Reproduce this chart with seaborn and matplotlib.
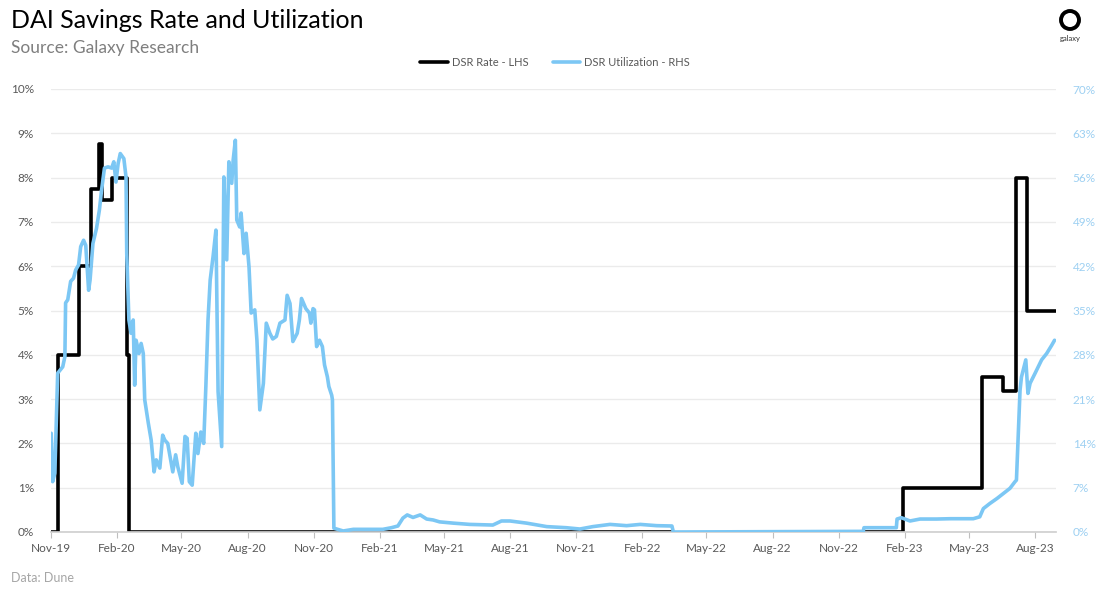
import matplotlib
matplotlib.use('Agg')
import matplotlib.pyplot as plt
import matplotlib.dates as mdates
from matplotlib.lines import Line2D
from matplotlib.patches import Ellipse
import pandas as pd
import seaborn as sns

# DSR rate (LHS, %) - step changes, two segments (gap Mar-22 .. Dec-22)
rate_dates = ['2019-11-01', '2019-11-11', '2019-12-10', '2019-12-27', '2020-01-07',
              '2020-01-11', '2020-01-25', '2020-02-15', '2020-02-18', '2022-03-14',
              '2022-12-07', '2023-01-29', '2023-05-19', '2023-06-17', '2023-07-05',
              '2023-07-20', '2023-08-30']
rate_vals = [0, 4, 6, 7.75, 8.75, 7.5, 8, 4, 0, 0,
             0, 1, 3.49, 3.19, 8, 5, 5]
rate_seg = [1, 1, 1, 1, 1, 1, 1, 1, 1, 1,
            2, 2, 2, 2, 2, 2, 2]

# DSR utilization (RHS, %)
util_dates = ['2019-11-02', '2019-11-04', '2019-11-07', '2019-11-11', '2019-11-18', '2019-11-21',
              '2019-11-22', '2019-11-25', '2019-11-29', '2019-12-03', '2019-12-06', '2019-12-10',
              '2019-12-13', '2019-12-17', '2019-12-20', '2019-12-24', '2019-12-26', '2019-12-30',
              '2020-01-04', '2020-01-08', '2020-01-11', '2020-01-15', '2020-01-20', '2020-01-25',
              '2020-01-28', '2020-01-31', '2020-02-03', '2020-02-06', '2020-02-11', '2020-02-14',
              '2020-02-15', '2020-02-18', '2020-02-21', '2020-02-24', '2020-02-26', '2020-02-28',
              '2020-03-03', '2020-03-06', '2020-03-09', '2020-03-11', '2020-03-16', '2020-03-20',
              '2020-03-24', '2020-03-27', '2020-04-01', '2020-04-05', '2020-04-08', '2020-04-12',
              '2020-04-16', '2020-04-19', '2020-04-23', '2020-04-26', '2020-05-02', '2020-05-06',
              '2020-05-09', '2020-05-12', '2020-05-16', '2020-05-21', '2020-05-24', '2020-05-28',
              '2020-06-01', '2020-06-04', '2020-06-07', '2020-06-10', '2020-06-14', '2020-06-18',
              '2020-06-21', '2020-06-26', '2020-06-29', '2020-07-03', '2020-07-06', '2020-07-10',
              '2020-07-12', '2020-07-15', '2020-07-17', '2020-07-21', '2020-07-23', '2020-07-27',
              '2020-07-30', '2020-08-03', '2020-08-06', '2020-08-11', '2020-08-14', '2020-08-18',
              '2020-08-23', '2020-08-27', '2020-09-01', '2020-09-05', '2020-09-10', '2020-09-15',
              '2020-09-22', '2020-09-25', '2020-09-29', '2020-10-03', '2020-10-09', '2020-10-12',
              '2020-10-15', '2020-10-21', '2020-10-26', '2020-10-28', '2020-10-31', '2020-11-02',
              '2020-11-05', '2020-11-09', '2020-11-13', '2020-11-16', '2020-11-20', '2020-11-22',
              '2020-11-26', '2020-11-27', '2020-11-29', '2020-12-12', '2020-12-26', '2021-02-05',
              '2021-02-17', '2021-02-26', '2021-03-05', '2021-03-11', '2021-03-19', '2021-03-29',
              '2021-04-07', '2021-04-16', '2021-04-25', '2021-05-14', '2021-06-06', '2021-07-08',
              '2021-07-20', '2021-08-01', '2021-08-24', '2021-09-21', '2021-10-18', '2021-11-06',
              '2021-11-24', '2021-12-18', '2022-01-10', '2022-01-29', '2022-02-21', '2022-03-14',
              '2022-03-16', '2022-12-05', '2022-12-06', '2023-01-20', '2023-01-21', '2023-01-27',
              '2023-02-08', '2023-02-22', '2023-03-17', '2023-04-05', '2023-05-07', '2023-05-16',
              '2023-05-21', '2023-05-30', '2023-06-09', '2023-06-18', '2023-06-27', '2023-07-04',
              '2023-07-06', '2023-07-11', '2023-07-13', '2023-07-19', '2023-07-22', '2023-07-25',
              '2023-08-01', '2023-08-10', '2023-08-17', '2023-08-24', '2023-08-28']
util_vals = [15.6, 7.95, 9.3, 25.1, 26.1, 27.7,
             36.2, 36.7, 39.6, 40.1, 41.4, 42.2,
             45.1, 46.1, 45.3, 38.2, 39.8, 45.6,
             48.0, 50.9, 54.0, 57.5, 57.7, 57.5,
             58.5, 55.3, 58.2, 59.8, 59.0, 56.1,
             44.0, 33.5, 31.4, 33.5, 23.2, 30.3,
             28.2, 29.8, 28.2, 20.9, 17.2, 14.5,
             9.5, 11.4, 10.1, 15.3, 14.5, 14.0,
             11.4, 9.5, 12.2, 10.3, 7.7, 15.1,
             14.8, 7.95, 7.4, 15.6, 12.4, 15.8,
             14.0, 23.0, 33.5, 39.8, 43.5, 47.7,
             22.2, 13.5, 56.1, 43.0, 58.5, 55.1,
             58.8, 61.9, 49.3, 48.2, 50.4, 44.0,
             47.2, 41.9, 34.6, 35.1, 30.3, 19.3,
             23.5, 33.0, 31.4, 30.5, 30.9, 33.0,
             33.5, 37.4, 36.1, 30.1, 31.4, 33.5,
             36.9, 35.3, 34.6, 33.0, 35.3, 35.1,
             29.3, 30.3, 29.3, 26.4, 24.5, 23.0,
             21.6, 20.9, 0.6, 0.16, 0.42, 0.42,
             0.68, 0.95, 2.2, 2.7, 2.3, 2.7,
             2.05, 1.9, 1.6, 1.4, 1.2, 1.1,
             1.74, 1.74, 1.4, 0.85, 0.68, 0.47,
             0.85, 1.2, 1.0, 1.2, 1.0, 0.95,
             0.0, 0.1, 0.68, 0.68, 2.05, 2.26,
             1.74, 2.05, 2.05, 2.1, 2.1, 2.4,
             3.7, 4.5, 5.3, 6.1, 6.9, 7.95,
             8.2, 22.4, 24.5, 27.2, 21.9, 23.5,
             25.1, 27.2, 28.2, 29.5, 30.3]

left_ticks = [0, 1, 2, 3, 4, 5, 6, 7, 8, 9, 10]
right_ticks = [0, 7, 14, 21, 28, 35, 42, 49, 56, 63, 70]

black = '#000000'
blue = '#7CC7F4'
blue_lbl = '#9DD0F2'
grey_txt = '#595959'

sns.set_theme(style='white')
plt.rcParams['font.family'] = ['Lato', 'DejaVu Sans']

rate_df = pd.DataFrame({'date': pd.to_datetime(rate_dates), 'rate': rate_vals, 'seg': rate_seg})
util_df = pd.DataFrame({'date': pd.to_datetime(util_dates), 'util': util_vals})

fig = plt.figure(figsize=(11, 5.93), dpi=100)
ax = fig.add_axes([50.5 / 1100, 61 / 593, (1056 - 50.5) / 1100, 443 / 593])
ax2 = ax.twinx()

sns.lineplot(data=rate_df, x='date', y='rate', units='seg', estimator=None,
             drawstyle='steps-post', color=black, linewidth=2.6, ax=ax)
sns.lineplot(data=util_df, x='date', y='util', color=blue, linewidth=2.6, ax=ax2)

ax.set_ylim(0, 10)
ax2.set_ylim(0, 70)
ax.set_yticks(left_ticks)
ax.set_yticklabels([f'{v}%' for v in left_ticks])
ax2.set_yticks(right_ticks)
ax2.set_yticklabels([f'{v}%' for v in right_ticks])

ax.set_xlim(pd.Timestamp('2019-11-01'), pd.Timestamp('2023-08-30'))
ax.set_xticks(pd.date_range('2019-11-01', '2023-08-01', freq='3MS'))
ax.xaxis.set_major_formatter(mdates.DateFormatter('%b-%y'))

for a in (ax, ax2):
    a.set_xlabel('')
    a.set_ylabel('')
    for s in a.spines.values():
        s.set_visible(False)
    if a.get_legend() is not None:
        a.get_legend().remove()

ax.spines['bottom'].set_visible(True)
ax.spines['bottom'].set_color('#D0D0D0')
ax.grid(axis='y', color='#EBEBEB', linewidth=1)
ax.set_axisbelow(True)
ax.tick_params(axis='x', colors='#BFBFBF', labelcolor=grey_txt, labelsize=8.5,
               length=4, width=0.8, direction='out', bottom=True, pad=4)
ax.tick_params(axis='y', labelcolor=grey_txt, labelsize=8.5, length=0, pad=12)
ax2.tick_params(axis='y', labelcolor=blue_lbl, labelsize=8.5, length=0, pad=12)

# legend
handles = [Line2D([], [], color=black, linewidth=2.6),
           Line2D([], [], color=blue, linewidth=2.6)]
fig.legend(handles, ['DSR Rate - LHS', 'DSR Utilization - RHS'], loc='center',
           bbox_to_anchor=(555 / 1100, 1 - 62 / 593), ncol=2, frameon=False,
           fontsize=8, handlelength=2.5, handletextpad=0.3, columnspacing=2.2,
           labelcolor=grey_txt)

# titles
fig.text(11 / 1100, 1 - 20 / 593, 'DAI Savings Rate and Utilization', fontsize=18,
         color='black', va='center', ha='left')
fig.text(11 / 1100, 1 - 48 / 593, 'Source: Galaxy Research', fontsize=12.5,
         color='#7F7F7F', va='center', ha='left')
fig.text(11 / 1100, 1 - 578 / 593, 'Data: Dune', fontsize=9,
         color='#A6A6A6', va='center', ha='left')

# galaxy logo
fig.add_artist(Ellipse((1070 / 1100, 1 - 20 / 593), 18 / 1100, 18 / 593,
                       fill=False, edgecolor='black', linewidth=2.8,
                       transform=fig.transFigure))
fig.text(1070 / 1100, 1 - 38 / 593, 'galaxy', fontsize=5.5, color='#333333',
         ha='center', va='center')

fig.savefig('out.png', dpi=100)
